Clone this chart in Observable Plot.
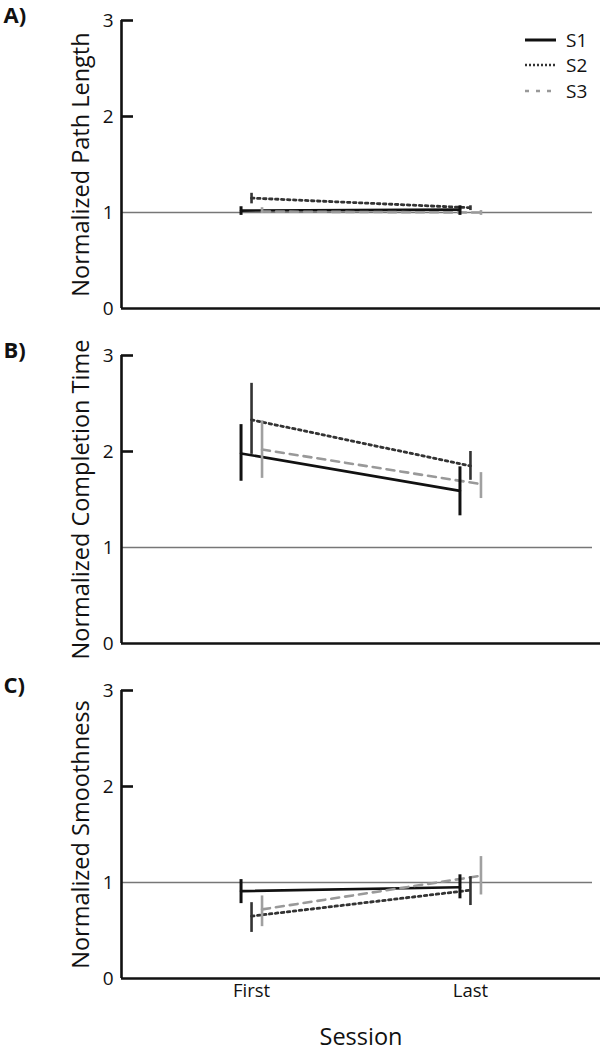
<!DOCTYPE html>
<html>
<head>
<meta charset="utf-8">
<script src="https://cdn.jsdelivr.net/npm/d3@7"></script>
<script src="https://cdn.jsdelivr.net/npm/@observablehq/plot@0.6"></script>
<style>
  html, body { margin: 0; padding: 0; background: #fff; }
  #wrap { position: relative; width: 600px; height: 1050px; font-family: "Open Sans", sans-serif; }
  #wrap svg { display: block; }
  #legend { position: absolute; left: 0; top: 0; }
</style>
</head>
<body>
<div id="wrap"></div>
<script>
// ---- data ----
const sessions = ["First", "Last"];
const series = ["S1", "S2", "S3"];

const panelLabels = ["A)", "B)", "C)"];
const yLabels = ["Normalized Path Length", "Normalized Completion Time", "Normalized Smoothness"];
const yTicks = [0, 1, 2, 3];

// Panel A: Normalized Path Length (mean, low, high) per series, per session [First, Last]
const pathMean = { S1: [1.02, 1.03], S2: [1.15, 1.05], S3: [1.01, 1.00] };
const pathLow  = { S1: [0.97, 0.97], S2: [1.09, 1.02], S3: [0.99, 0.97] };
const pathHigh = { S1: [1.06, 1.07], S2: [1.20, 1.07], S3: [1.05, 1.02] };

// Panel B: Normalized Completion Time
const timeMean = { S1: [1.98, 1.59], S2: [2.33, 1.85], S3: [2.02, 1.66] };
const timeLow  = { S1: [1.69, 1.33], S2: [1.97, 1.70], S3: [1.72, 1.51] };
const timeHigh = { S1: [2.28, 1.84], S2: [2.71, 2.00], S3: [2.32, 1.78] };

// Panel C: Normalized Smoothness
const smoothMean = { S1: [0.91, 0.95], S2: [0.65, 0.92], S3: [0.72, 1.07] };
const smoothLow  = { S1: [0.78, 0.83], S2: [0.48, 0.76], S3: [0.54, 0.87] };
const smoothHigh = { S1: [1.03, 1.08], S2: [0.79, 1.06], S3: [0.86, 1.27] };

// ---- styling ----
const FONT = "Open Sans, sans-serif";
const lineStyle = {
  S1: { stroke: "#111", width: 2.6, dash: null, barStroke: "#111", barWidth: 3 },
  S2: { stroke: "#333", width: 2.8, dash: "2.5,3.5", barStroke: "#333", barWidth: 2.6 },
  S3: { stroke: "#999", width: 2.6, dash: "8,6", barStroke: "#a0a0a0", barWidth: 2.6 }
};

const xDom = [-0.594, 1.594];
const pxPerUnit = 479 / (xDom[1] - xDom[0]);
const dodge = 10.5 / pxPerUnit;

function buildRows(mean, low, high) {
  const rows = [];
  series.forEach((s, si) => {
    sessions.forEach((sess, i) => {
      rows.push({ series: s, session: sess, x: i + (si - 1) * dodge, y: mean[s][i], lo: low[s][i], hi: high[s][i] });
    });
  });
  return rows;
}

const panels = [
  buildRows(pathMean, pathLow, pathHigh),
  buildRows(timeMean, timeLow, timeHigh),
  buildRows(smoothMean, smoothLow, smoothHigh)
];

const wrap = document.getElementById("wrap");

panels.forEach((rows, pi) => {
  const last = pi === panels.length - 1;
  const marks = [
    Plot.ruleY([1], { x1: xDom[0], x2: xDom[0] + 471 / pxPerUnit, stroke: "#777", strokeWidth: 1.5 }),
    Plot.ruleX([xDom[0]], { y1: 0, y2: 3, stroke: "#111", strokeWidth: 2.6 }),
    Plot.ruleY([0], { x1: xDom[0], x2: xDom[1], stroke: "#111", strokeWidth: 2.6 }),
    Plot.ruleY([2, 3], { x1: xDom[0], x2: xDom[0] + 12 / pxPerUnit, stroke: "#111", strokeWidth: 2.6 }),
    Plot.axisY({ ticks: yTicks, tickSize: 0, tickPadding: 8, fontSize: 19, label: null, tickFormat: d => d }),
    Plot.text([yLabels[pi]], { text: d => d, frameAnchor: "left", dx: -40, rotate: -90, fontSize: 23.5, textAnchor: "middle", lineAnchor: "middle", fill: "#111" }),
    Plot.text([panelLabels[pi]], { text: d => d, frameAnchor: "top-left", dx: -118, dy: -5, fontSize: 22, fontWeight: "bold", textAnchor: "start", lineAnchor: "middle", fill: "#111" })
  ];
  series.forEach(s => {
    const st = lineStyle[s];
    const d = rows.filter(r => r.series === s);
    marks.push(Plot.line(d, { x: "x", y: "y", stroke: st.stroke, strokeWidth: st.width, strokeDasharray: st.dash }));
  });
  series.forEach(s => {
    const st = lineStyle[s];
    const d = rows.filter(r => r.series === s);
    marks.push(Plot.ruleX(d, { x: "x", y1: "lo", y2: "hi", stroke: st.barStroke, strokeWidth: st.barWidth }));
  });
  if (last) {
    marks.push(Plot.axisX({ ticks: [0, 1], tickFormat: i => sessions[i], tickSize: 0, tickPadding: 5, fontSize: 18.5, label: null }));
    marks.push(Plot.text(["Session"], { text: d => d, frameAnchor: "bottom", dy: 59, fontSize: 23.5, lineAnchor: "middle", textAnchor: "middle", fill: "#111" }));
  }
  const chart = Plot.plot({
    width: 600,
    height: last ? 380 : 335,
    marginLeft: 121,
    marginRight: 0,
    marginTop: 20,
    marginBottom: last ? 72 : 27,
    style: { fontFamily: FONT, color: "#111", background: "#fff", overflow: "visible" },
    x: { domain: xDom, axis: null },
    y: { domain: [0, 3], axis: null },
    marks
  });
  wrap.appendChild(chart);
});

// legend (top right of panel A)
const leg = d3.select(wrap).append("svg")
  .attr("id", "legend").attr("width", 600).attr("height", 110);
const legY = [40, 65, 91];
series.forEach((s, i) => {
  const st = lineStyle[s];
  leg.append("line")
    .attr("x1", 525).attr("x2", 556).attr("y1", legY[i]).attr("y2", legY[i])
    .attr("stroke", st.stroke).attr("stroke-width", s === "S1" ? 3 : 2.4)
    .attr("stroke-dasharray", s === "S2" ? "2,2" : (s === "S3" ? "4,7" : null));
  leg.append("text")
    .attr("x", 566).attr("y", legY[i]).attr("dy", "0.35em")
    .attr("font-family", FONT).attr("font-size", 19).attr("fill", "#111")
    .text(s);
});
</script>
</body>
</html>
